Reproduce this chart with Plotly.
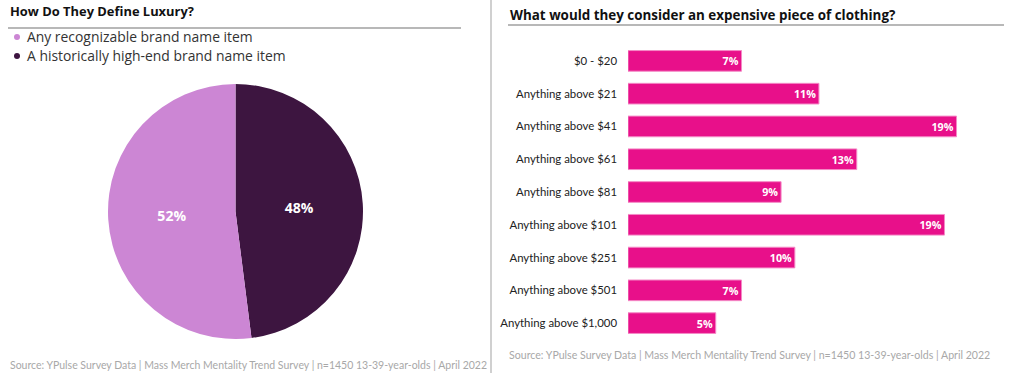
import plotly.graph_objects as go

# ---- data ----
pie_labels = ["Any recognizable brand name item", "A historically high-end brand name item"]
pie_values = [52, 48]
pie_colors = ["#CC86D4", "#3D1540"]

bar_categories = ["$0 - $20", "Anything above $21", "Anything above $41", "Anything above $61",
                  "Anything above $81", "Anything above $101", "Anything above $251",
                  "Anything above $501", "Anything above $1,000"]
bar_values = [6.6, 11.1, 19.1, 13.3, 8.9, 18.4, 9.7, 6.6, 5.1]
bar_text = ["7%", "11%", "19%", "13%", "9%", "19%", "10%", "7%", "5%"]

left_title = "How Do They Define Luxury?"
right_title = "What would they consider an expensive piece of clothing?"
source = "Source: YPulse Survey Data | Mass Merch Mentality Trend Survey | n=1450 13-39-year-olds | April 2022"

W, H = 1020, 373
FONT = "Lato"
FONT2 = "Open Sans"

def px(x):
    return x / W

def py(y):
    return 1 - y / H

fig = go.Figure()

# dark slice drawn first, clockwise from 12 o'clock
fig.add_trace(go.Pie(
    labels=pie_labels[::-1], values=pie_values[::-1],
    marker=dict(colors=pie_colors[::-1], line=dict(width=0)),
    sort=False, direction="clockwise", rotation=0,
    texttemplate="%{percent:.0%}", textinfo="percent",
    textposition="inside", insidetextorientation="horizontal",
    textfont=dict(family=FONT2, size=14, color="white", weight="bold"),
    domain=dict(x=[px(107), px(364)], y=[py(339), py(84)]),
    showlegend=False, hoverinfo="label+percent",
))

fig.add_trace(go.Bar(
    x=bar_values, y=bar_categories, orientation="h",
    marker=dict(color="#E8108A", line=dict(color="#F48AC6", width=1)),
    text=bar_text, textposition="inside", insidetextanchor="end",
    textfont=dict(family=FONT2, size=11, color="white", weight="bold"),
    showlegend=False, xaxis="x", yaxis="y",
))

fig.update_layout(
    width=W, height=H,
    margin=dict(l=0, r=0, t=0, b=0),
    paper_bgcolor="white", plot_bgcolor="white",
    font=dict(family=FONT, color="#222"),
    bargap=0.37,
    xaxis=dict(domain=[px(628), px(1000)], range=[0, 372 / 17.2], visible=False, fixedrange=True),
    yaxis=dict(domain=[py(339.5), py(44.5)], autorange="reversed", showgrid=False, zeroline=False,
               showline=False, ticks="", ticklabelstandoff=10,
               tickfont=dict(family=FONT, size=11.4, color="#222"), fixedrange=True),
)

shapes = []
annotations = []

# divider
shapes.append(dict(type="line", xref="paper", yref="paper", x0=px(491), x1=px(491), y0=0, y1=1,
                   line=dict(color="#D0D0D0", width=2)))
# header rules
shapes.append(dict(type="line", xref="paper", yref="paper", x0=px(8), x1=px(461), y0=py(28), y1=py(28),
                   line=dict(color="#A0A0A0", width=1.5)))
shapes.append(dict(type="line", xref="paper", yref="paper", x0=px(508), x1=px(1004), y0=py(25), y1=py(25),
                   line=dict(color="#A0A0A0", width=1.5)))

annotations.append(dict(text=f"<b>{left_title}</b>", x=px(8), y=py(11), xref="paper", yref="paper",
                        xanchor="left", yanchor="middle", showarrow=False,
                        font=dict(family=FONT2, size=12.9, color="#111")))
annotations.append(dict(text=f"<b>{right_title}</b>", x=px(508), y=py(15), xref="paper", yref="paper",
                        xanchor="left", yanchor="middle", showarrow=False,
                        font=dict(family=FONT2, size=13.4, color="#111")))

# legend built from the pie data
for i, (lab, col) in enumerate(zip(pie_labels, pie_colors)):
    yc = 37 + i * 19
    shapes.append(dict(type="circle", xref="paper", yref="paper",
                       x0=px(14), x1=px(20), y0=py(yc + 3), y1=py(yc - 3),
                       fillcolor=col, line=dict(width=0)))
    annotations.append(dict(text=lab, x=px(25), y=py(yc), xref="paper", yref="paper",
                            xanchor="left", yanchor="middle", showarrow=False,
                            font=dict(family=FONT2, size=13.9, color="#333")))

# sources
annotations.append(dict(text=source, x=px(8), y=py(365), xref="paper", yref="paper",
                        xanchor="left", yanchor="middle", showarrow=False,
                        font=dict(family=FONT, size=10.5, color="#A8A8A8")))
annotations.append(dict(text=source, x=px(507), y=py(355), xref="paper", yref="paper",
                        xanchor="left", yanchor="middle", showarrow=False,
                        font=dict(family=FONT, size=10.6, color="#A8A8A8")))

fig.update_layout(shapes=shapes, annotations=annotations)

fig.write_html("out.html", config={"displayModeBar": False},
               post_script="document.body.style.margin='0';document.body.style.padding='0';"
                           "document.body.style.overflow='hidden';")
